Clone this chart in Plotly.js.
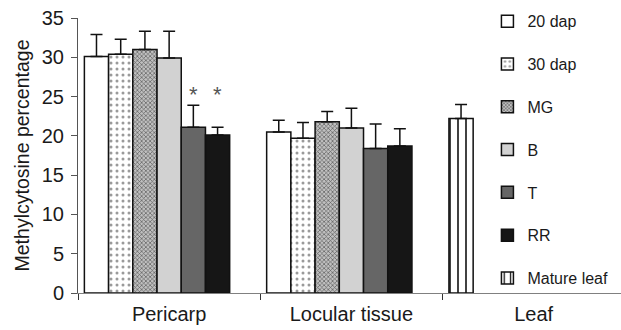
<!DOCTYPE html>
<html>
<head>
<meta charset="utf-8">
<script src="https://cdn.plot.ly/plotly-3.0.1.min.js"></script>
<style>html,body{margin:0;padding:0;background:#fff;}#chart{width:621px;height:330px;}</style>
</head>
<body>
<div id="chart"></div>
<script>
const categories = ['Pericarp', 'Locular tissue', 'Leaf'];
const seriesNames = ['20 dap', '30 dap', 'MG', 'B', 'T', 'RR', 'Mature leaf'];
const val20dap = [30.1, 20.5, null];
const val30dap = [30.4, 19.7, null];
const valMG = [31.0, 21.8, null];
const valB = [29.9, 21.0, null];
const valT = [21.1, 18.4, null];
const valRR = [20.1, 18.7, null];
const valLeaf = [null, null, 22.2];
const err20dap = [2.8, 1.5, null];
const err30dap = [1.9, 2.0, null];
const errMG = [2.3, 1.3, null];
const errB = [3.4, 2.5, null];
const errT = [2.8, 3.1, null];
const errRR = [1.0, 2.2, null];
const errLeaf = [null, null, 1.8];
// significance marks: series, category, height
const sigSeries = ['T', 'RR'];
const sigCategory = ['Pericarp', 'Pericarp'];
const sigY = [25.3, 25.3];

const values = [val20dap, val30dap, valMG, valB, valT, valRR, valLeaf];
const errors = [err20dap, err30dap, errMG, errB, errT, errRR, errLeaf];
const slotIndex = [0, 1, 2, 3, 4, 5, 0];

const slots = 7;
const groupWidth = 0.93;
const slotW = groupWidth / slots;
const offsets = slotIndex.map(i => -groupWidth / 2 + i * slotW);

const styles = [
  {color: '#ffffff'},
  {color: '#ffffff', pattern: {shape: '.', fgcolor: '#9a9a9a', bgcolor: '#ffffff', size: 6, solidity: 0.2}},
  {color: '#b0b0b0', pattern: {shape: 'x', fgcolor: '#5a5a5a', bgcolor: '#c0c0c0', size: 3, solidity: 0.4}},
  {color: '#d2d2d2'},
  {color: '#666666'},
  {color: '#161616'},
  {color: '#ffffff', pattern: {shape: '|', fgcolor: '#111111', bgcolor: '#ffffff', size: 8, solidity: 0.2}}
];

const traces = seriesNames.map((name, k) => {
  const marker = {color: styles[k].color, line: {color: '#111111', width: 1.5}};
  if (styles[k].pattern) marker.pattern = styles[k].pattern;
  return {
    type: 'bar',
    name: name,
    x: categories,
    y: values[k],
    width: slotW,
    offset: offsets[k],
    marker: marker,
    legendgroup: 'g' + k,
    error_y: {type: 'data', symmetric: false, array: errors[k], arrayminus: errors[k].map(() => 0),
              color: '#111111', thickness: 1.5, width: 6},
    hoverinfo: 'skip'
  };
});

const annotations = sigSeries.map((s, j) => {
  const k = seriesNames.indexOf(s);
  const c = categories.indexOf(sigCategory[j]);
  return {
    x: c + offsets[k] + slotW / 2, y: sigY[j], xref: 'x', yref: 'y',
    text: '*', showarrow: false,
    font: {family: 'Liberation Sans, Arial, sans-serif', size: 22, color: '#555555'}
  };
});

const layout = {
  width: 621, height: 330,
  margin: {l: 78, r: 0, t: 18, b: 37},
  paper_bgcolor: '#ffffff', plot_bgcolor: '#ffffff',
  font: {family: 'Liberation Sans, Arial, sans-serif', color: '#1a1a1a'},
  barmode: 'group',
  showlegend: true,
  legend: {x: 0.754, xanchor: 'left', y: 1.05, yanchor: 'top', traceorder: 'grouped',
           tracegroupgap: 19, maxheight: 330, font: {size: 16, color: '#1a1a1a'}, bgcolor: 'rgba(0,0,0,0)'},
  xaxis: {
    type: 'category', range: [-0.5, 2.479], showline: true, linecolor: '#808080', linewidth: 1,
    ticks: 'outside', tickson: 'boundaries', ticklen: 6, tickcolor: '#333333', tickwidth: 1,
    showgrid: false, zeroline: false, tickfont: {size: 20}, ticklabelstandoff: 3, fixedrange: true
  },
  yaxis: {
    range: [0, 35], dtick: 5, showline: true, linecolor: '#555555', linewidth: 1,
    ticks: 'outside', ticklen: 6, tickcolor: '#555555', showgrid: false, zeroline: false,
    tickfont: {size: 20}, ticklabelstandoff: 3,
    title: {text: 'Methylcytosine percentage', font: {size: 19.5}, standoff: 6}
  },
  annotations: annotations
};

Plotly.newPlot('chart', traces, layout, {displayModeBar: false, staticPlot: true});
</script>
</body>
</html>
